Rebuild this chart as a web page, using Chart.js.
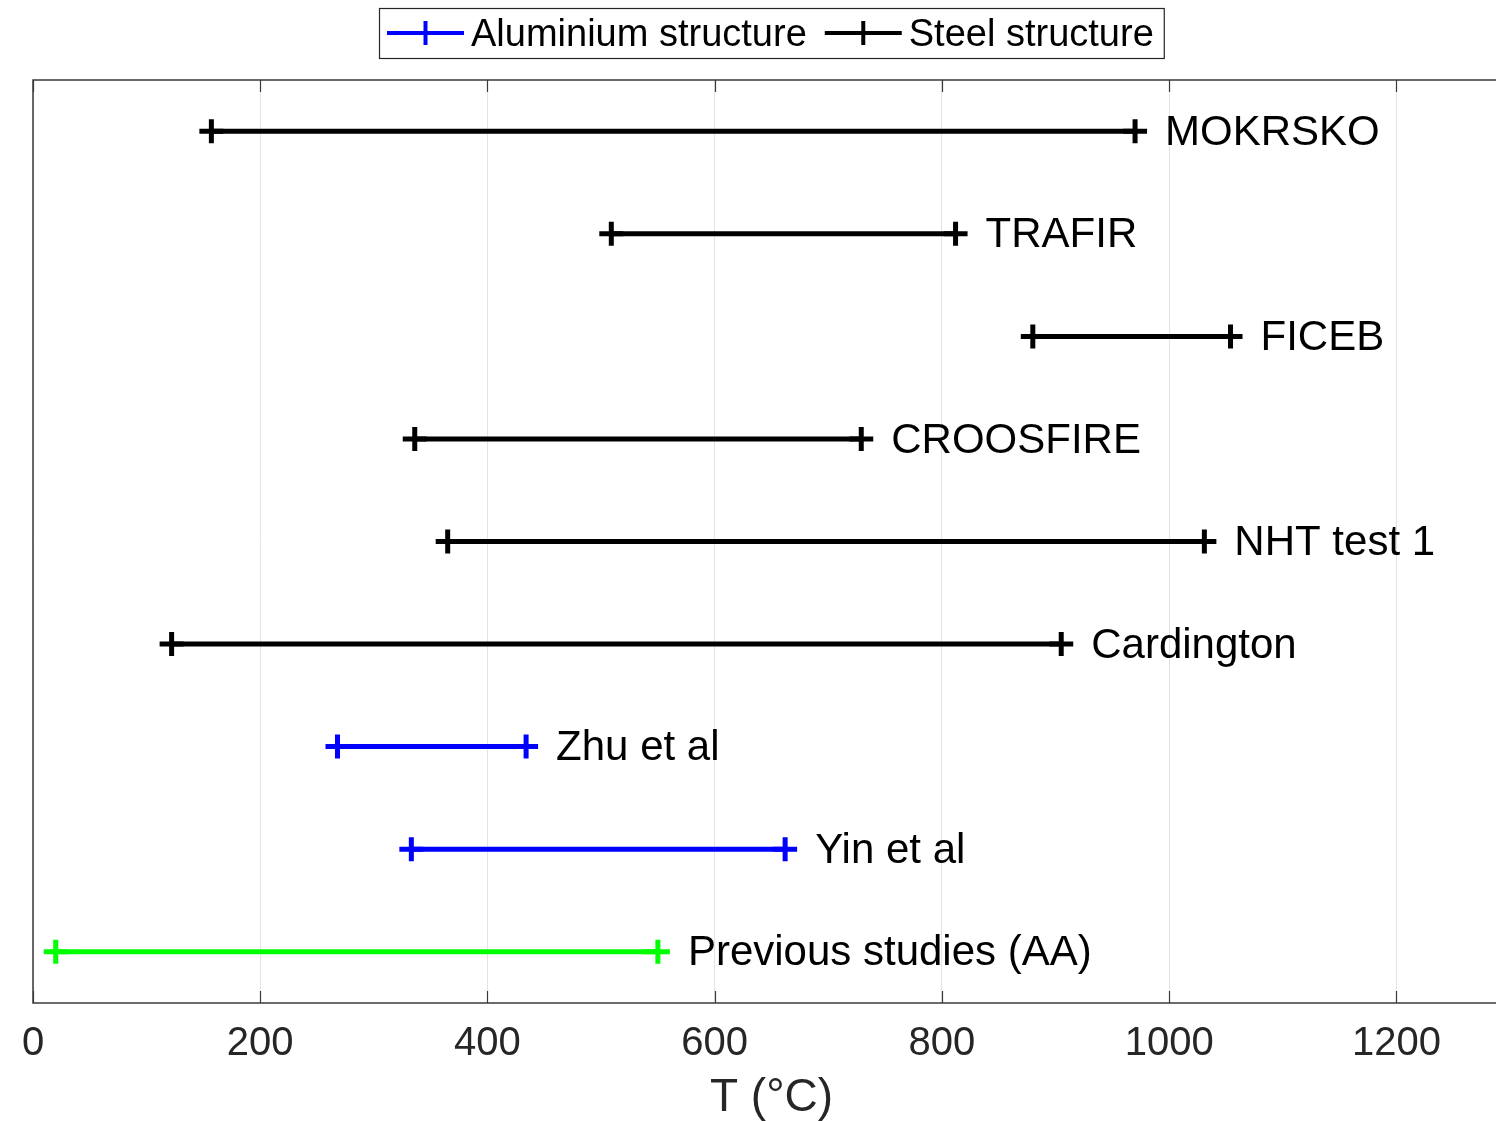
<!DOCTYPE html>
<html>
<head>
<meta charset="utf-8">
<title>Temperature ranges</title>
<script src="https://cdn.jsdelivr.net/npm/chart.js@4.4.1/dist/chart.umd.min.js"></script>
<style>
    html, body {
        margin: 0;
        padding: 0;
        background: #ffffff;
        overflow: hidden;
    }
    #caixa {
        position: relative;
        width: 1530px;
        height: 1121px;
    }
</style>
</head>
<body>
<div id="caixa"><canvas id="grafico"></canvas></div>
<script>
// Faixas de temperatura por ensaio, de cima para baixo
const listaEnsaios = ['MOKRSKO', 'TRAFIR', 'FICEB', 'CROOSFIRE', 'NHT test 1', 'Cardington', 'Zhu et al', 'Yin et al', 'Previous studies (AA)'];
const listaTempMin = [157, 509, 880, 336, 365, 122, 268, 333, 20];
const listaTempMax = [970, 812, 1054, 729, 1031, 905, 434, 662, 550];
const listaTipo = ['aco', 'aco', 'aco', 'aco', 'aco', 'aco', 'aluminio', 'aluminio', 'anterior'];
const listaTicksX = [0, 200, 400, 600, 800, 1000, 1200];
const listaLegenda = ['Aluminium structure', 'Steel structure'];

const coresTipo = {
    aco: '#000000',
    aluminio: '#0000ff',
    anterior: '#00ff00'
};

const fonte = '"Liberation Sans", Arial, Helvetica, sans-serif';
const corTexto = '#262626';

const conjuntos = listaEnsaios.map((nome, i) => {
    const linha = listaEnsaios.length - i;
    const cor = coresTipo[listaTipo[i]];
    return {
        label: nome,
        data: [
            { x: listaTempMin[i], y: linha },
            { x: listaTempMax[i], y: linha }
        ],
        showLine: true,
        borderColor: cor,
        backgroundColor: cor,
        borderWidth: 5,
        pointStyle: 'cross',
        pointRadius: 12,
        pointBorderWidth: 5,
        pointHoverRadius: 12
    };
});

// nomes dos ensaios ao lado da extremidade direita
const pluginRotulos = {
    id: 'rotulos',
    afterDatasetsDraw(chart) {
        const ctx = chart.ctx;
        ctx.save();
        ctx.font = '42px ' + fonte;
        ctx.fillStyle = '#000000';
        ctx.textBaseline = 'middle';
        ctx.textAlign = 'left';
        chart.data.datasets.forEach((conjunto, i) => {
            const meta = chart.getDatasetMeta(i);
            const ponto = meta.data[1];
            ctx.fillText(conjunto.label, ponto.x + 30, ponto.y + 2);
        });
        ctx.restore();
    }
};

// caixa dos eixos com marcas internas
const pluginCaixa = {
    id: 'caixa',
    afterDraw(chart) {
        const ctx = chart.ctx;
        const area = chart.chartArea;
        const escalaX = chart.scales.x;
        ctx.save();
        ctx.strokeStyle = '#3a3a3a';
        ctx.lineWidth = 1.5;
        ctx.strokeRect(area.left, area.top, area.right - area.left, area.bottom - area.top);
        ctx.lineWidth = 1.2;
        listaTicksX.forEach((valor) => {
            const px = Math.round(escalaX.getPixelForValue(valor)) + 0.5;
            ctx.beginPath();
            ctx.moveTo(px, area.top);
            ctx.lineTo(px, area.top + 12);
            ctx.moveTo(px, area.bottom);
            ctx.lineTo(px, area.bottom - 12);
            ctx.stroke();
        });
        ctx.restore();
    }
};

// legenda em caixa no topo
const pluginLegenda = {
    id: 'legendaCaixa',
    afterDraw(chart) {
        const ctx = chart.ctx;
        const area = chart.chartArea;
        const cores = [coresTipo.aluminio, coresTipo.aco];
        ctx.save();
        ctx.font = '38px ' + fonte;
        const larguras = listaLegenda.map((t) => ctx.measureText(t).width);
        const amostra = 77;
        const total = 8 + amostra + 7 + larguras[0] + 18 + amostra + 8 + larguras[1] + 9;
        const esquerda = Math.round((area.left + area.right) / 2 - total / 2);
        const topo = 8;
        const altura = 50;
        const meio = topo + altura / 2;

        ctx.fillStyle = '#ffffff';
        ctx.fillRect(esquerda, topo, total, altura);
        ctx.strokeStyle = '#262626';
        ctx.lineWidth = 1.2;
        ctx.strokeRect(esquerda + 0.5, topo + 0.5, total, altura);

        let x = esquerda + 8;
        listaLegenda.forEach((texto, i) => {
            ctx.strokeStyle = cores[i];
            ctx.lineWidth = 4;
            ctx.beginPath();
            ctx.moveTo(x, meio);
            ctx.lineTo(x + amostra, meio);
            ctx.moveTo(x + amostra / 2, meio - 12);
            ctx.lineTo(x + amostra / 2, meio + 12);
            ctx.stroke();
            x += amostra + 7;
            ctx.fillStyle = '#000000';
            ctx.textBaseline = 'middle';
            ctx.fillText(texto, x, meio + 3);
            x += larguras[i] + 18;
        });
        ctx.restore();
    }
};

const contexto = document.getElementById('grafico').getContext('2d');

new Chart(contexto, {
    type: 'scatter',
    data: {
        datasets: conjuntos
    },
    options: {
        responsive: true,
        maintainAspectRatio: false,
        animation: false,
        layout: {
            padding: { left: 33, right: 20, top: 80, bottom: 0 }
        },
        scales: {
            x: {
                type: 'linear',
                min: 0,
                max: 1300,
                afterBuildTicks(escala) {
                    escala.ticks = listaTicksX.map((v) => ({ value: v }));
                },
                grid: {
                    color: '#e3e3e3',
                    lineWidth: 1,
                    drawTicks: false
                },
                border: { display: false },
                ticks: {
                    color: corTexto,
                    padding: 21,
                    maxRotation: 0,
                    font: { family: fonte, size: 40, lineHeight: 1.0 },
                    callback: (valor) => String(valor)
                },
                title: {
                    display: true,
                    text: 'T (°C)',
                    color: corTexto,
                    padding: { top: -10, bottom: 0 },
                    font: { family: fonte, size: 46, lineHeight: 1.0 }
                }
            },
            y: {
                type: 'linear',
                min: 0.5,
                max: listaEnsaios.length + 0.5,
                display: false
            }
        },
        plugins: {
            legend: { display: false },
            tooltip: { enabled: false }
        }
    },
    plugins: [pluginRotulos, pluginCaixa, pluginLegenda]
});
</script>
</body>
</html>
